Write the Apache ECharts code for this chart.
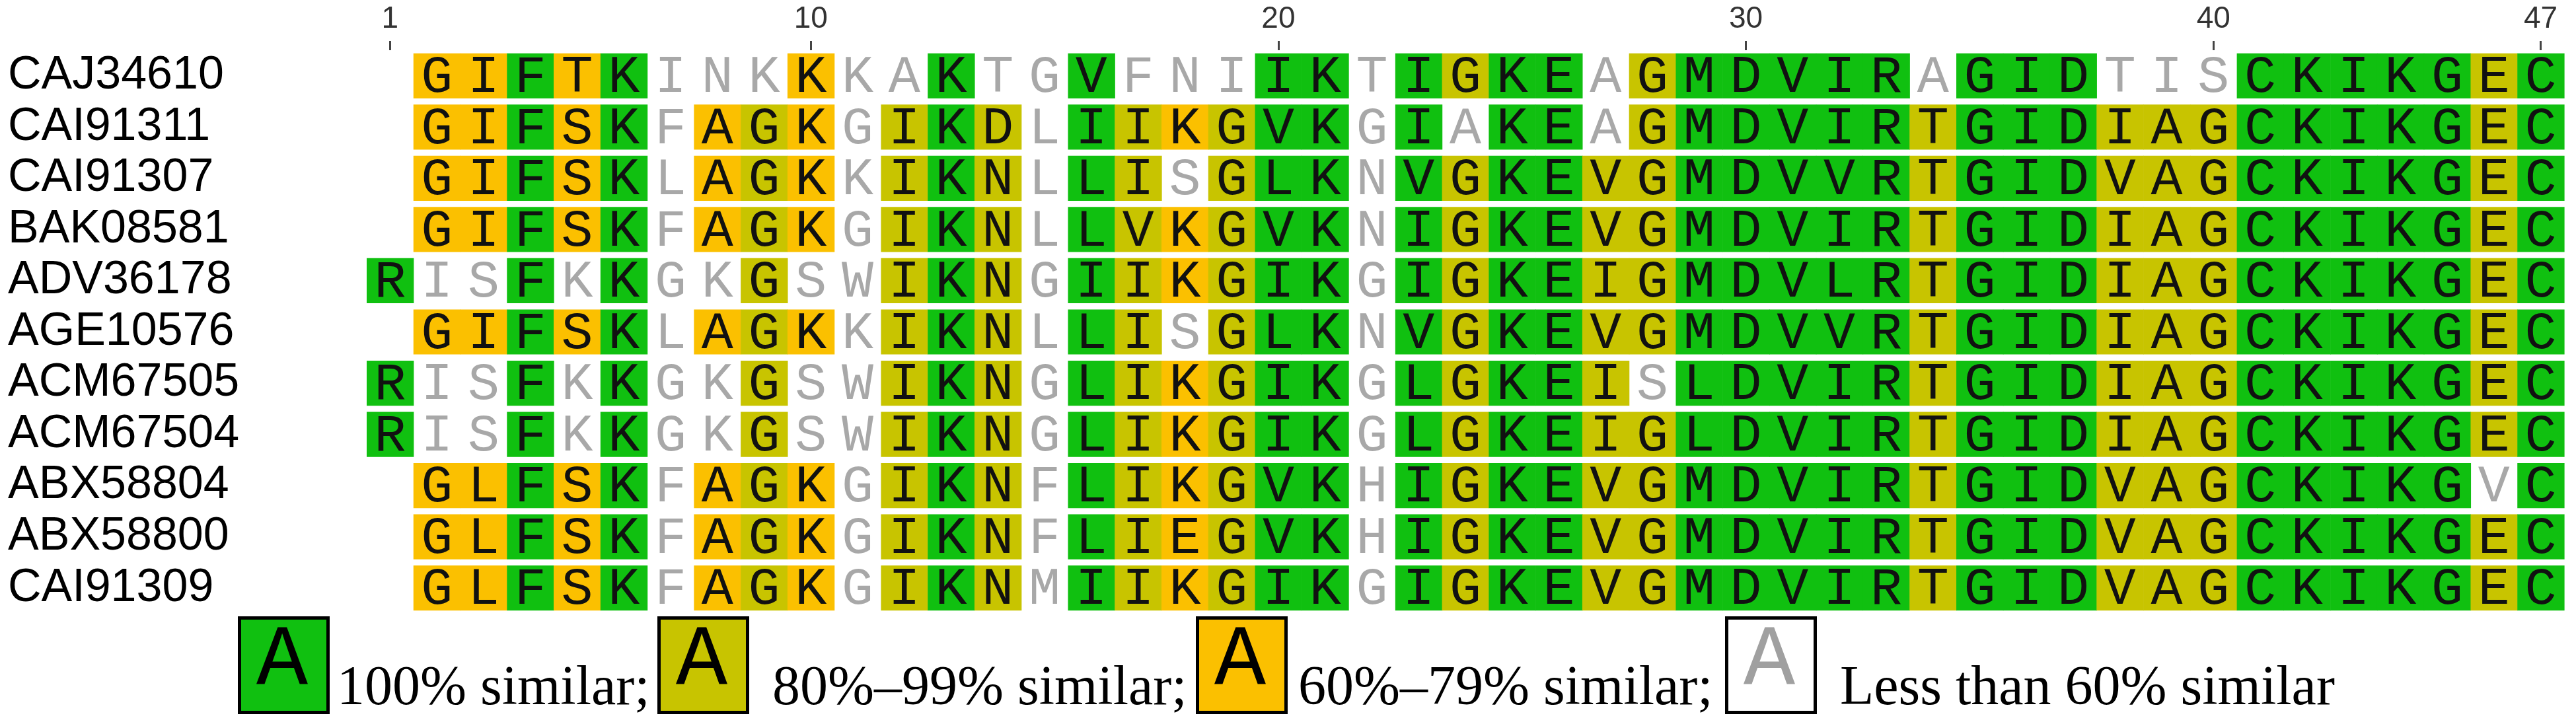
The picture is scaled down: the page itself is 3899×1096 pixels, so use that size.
<!DOCTYPE html>
<html><head><meta charset="utf-8">
<script src="https://cdn.jsdelivr.net/npm/echarts@6/dist/echarts.min.js"></script>
<style>html,body{margin:0;padding:0;background:#fff}#c{width:3899px;height:1096px}</style>
</head><body><div id="c"></div>
<script>
const names = ["CAJ34610","CAI91311","CAI91307","BAK08581","ADV36178","AGE10576","ACM67505","ACM67504","ABX58804","ABX58800","CAI91309"];
const positions = Array.from({length:47},(_,i)=>String(i+1));
const tickLabels = ["1","10","20","30","40","47"];
const sequences = [
"-GIFTKINKKKAKTGVFNIIKTIGKEAGMDVIRAGIDTISCKIKGEC",
"-GIFSKFAGKGIKDLIIKGVKGIAKEAGMDVIRTGIDIAGCKIKGEC",
"-GIFSKLAGKKIKNLLISGLKNVGKEVGMDVVRTGIDVAGCKIKGEC",
"-GIFSKFAGKGIKNLLVKGVKNIGKEVGMDVIRTGIDIAGCKIKGEC",
"RISFKKGKGSWIKNGIIKGIKGIGKEIGMDVLRTGIDIAGCKIKGEC",
"-GIFSKLAGKKIKNLLISGLKNVGKEVGMDVVRTGIDIAGCKIKGEC",
"RISFKKGKGSWIKNGLIKGIKGLGKEISLDVIRTGIDIAGCKIKGEC",
"RISFKKGKGSWIKNGLIKGIKGLGKEIGLDVIRTGIDIAGCKIKGEC",
"-GLFSKFAGKGIKNFLIKGVKHIGKEVGMDVIRTGIDVAGCKIKGVC",
"-GLFSKFAGKGIKNFLIEGVKHIGKEVGMDVIRTGIDVAGCKIKGEC",
"-GLFSKFAGKGIKNMIIKGIKGIGKEVGMDVIRTGIDVAGCKIKGEC"
];
// similarity level per column: 3=100%, 2=80-99%, 1=60-79%, 0=<60%
const levels = [
"01131 30001 00300 30003 30323 30233 33303 33000 33333 23",
"01131 30121 02320 32123 30303 30233 33323 33222 33333 23",
"01131 30121 02320 32023 30323 32233 33323 33222 33333 23",
"01131 30121 02320 32123 30323 32233 33323 33222 33333 23",
"30030 30020 02320 32123 30323 32233 33323 33222 33333 23",
"01131 30121 02320 32023 30323 32233 33323 33222 33333 23",
"30030 30020 02320 32123 30323 32033 33323 33222 33333 23",
"30030 30020 02320 32123 30323 32233 33323 33222 33333 23",
"01131 30121 02320 32123 30323 32233 33323 33222 33333 03",
"01131 30121 02320 32123 30323 32233 33323 33222 33333 23",
"01131 30121 02320 32123 30323 32233 33323 33222 33333 23"
].map(s=>s.replace(/ /g,''));
const fills = ["none","#fbc000","#c8c400","#10c010"];
const legendTexts = ["100% similar;","80%\u201399% similar;","60%\u201379% similar;","Less than 60% similar"];

const data = [];
sequences.forEach((s,r)=>{ for(let c=0;c<s.length;c++){ if(s[c]!=='-') data.push([c, r, s[c], +levels[r][c]]); }});

const chart = echarts.init(document.getElementById('c'));
const legendX = [360, 995, 1810, 2611], legendTX = [510, 1169, 1965, 2785];
const legendLv = [3,2,1,0];
const graphic = [];
legendLv.forEach((lv,i)=>{
  graphic.push({type:'rect', left:legendX[i], top:933, shape:{width:134,height:143},
    style:{fill: lv?fills[lv]:'#fff', stroke:'#000', lineWidth:5}});
  graphic.push({type:'text', left:legendX[i]+28, top:936, style:{text:'A', font:'130px "Liberation Mono"', fill: lv?'#000':'#a0a0a0'}});
  graphic.push({type:'text', left:legendTX[i], top:1002, style:{text:legendTexts[i], font:'84px "Liberation Serif"', fill:'#000'}});
});
chart.setOption({
  animation:false,
  grid:{left:555, right:18, top:76, bottom:167},
  xAxis:{type:'category', data:positions, position:'top', boundaryGap:true,
    axisLine:{show:false},
    axisTick:{show:true, alignWithLabel:true, length:14, lineStyle:{color:'#444', width:3},
      interval:(i,v)=>tickLabels.includes(v)},
    axisLabel:{interval:(i,v)=>tickLabels.includes(v), fontSize:46, color:'#333', margin:24, fontFamily:'Liberation Sans'},
    splitLine:{show:false}},
  yAxis:{type:'category', data:names, inverse:true, axisLine:{show:false}, axisTick:{show:false},
    axisLabel:{interval:0, align:'left', margin:543, fontSize:70, color:'#000', fontFamily:'Liberation Sans'}},
  graphic,
  series:[{type:'custom', data, encode:{x:0,y:1},
    renderItem:(params, api)=>{
      const p = api.coord([api.value(0), api.value(1)]);
      const sz = api.size([1,1]);
      const lv = api.value(3), ch = api.value(2);
      const w = sz[0], h = sz[1]*0.88;
      const children = [];
      if(lv>0) children.push({type:'rect', shape:{x:p[0]-w/2, y:p[1]-h/2, width:w+0.6, height:h}, style:{fill:fills[lv]}});
      children.push({type:'text', style:{text:ch, x:p[0], y:p[1]+3, align:'center', verticalAlign:'middle',
        font:'80px "Liberation Mono"', fill: lv>0?'#111':'#a8a8a8'}});
      return {type:'group', children};
    }}]
});
</script></body></html>
